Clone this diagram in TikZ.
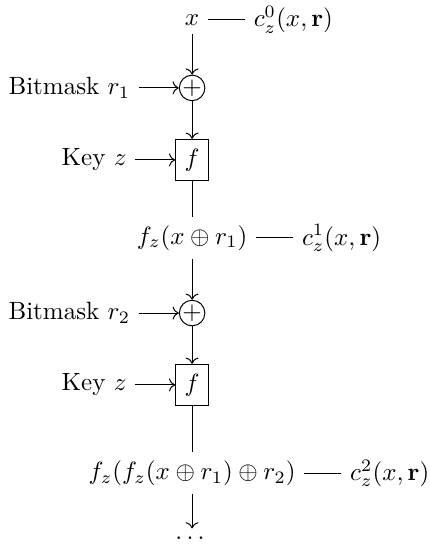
\documentclass[tikz,border=0pt]{standalone}
\usepackage{amsmath}
\usepackage{amssymb}
\usetikzlibrary{positioning, arrows.meta}

\begin{document}
\begin{tikzpicture}[
    node distance = 0.5cm,
    % Style for the XOR circles that take the bitmask
    xor/.style = {circle, draw, inner sep=0pt, minimum size=0.34cm},
    % Style for the keyed function boxes
    fbox/.style = {rectangle, draw, inner sep=0pt, minimum width=0.46cm, minimum height=0.58cm},
    % Style for the arrows along the chain
    arrow/.style = {->}
]
    \useasboundingbox (-2.70,0.28) rectangle (3.33,-7.38);

    % --- INPUT ---
    \node (X0) at (0, 0) {$x$};
    \node[right=0.52cm of X0] (C0) {$c_z^0(x,\mathbf{r})$};
    \draw (X0) -- (C0);

    % --- ROUND 1 ---
    \node[xor] (O1) at (0, -0.956) {$+$};
    \node[left=0.56cm of O1] (B1) {Bitmask $r_1$};
    \node[fbox] (F1) at (0, -1.968) {$f$};
    \node[left=0.56cm of F1] (K1) {Key $z$};
    \node (X1) at (0, -3.065) {$f_z(x \oplus r_1)$};
    \node[right=0.52cm of X1] (C1) {$c_z^1(x,\mathbf{r})$};

    \draw[arrow] (X0) -- (O1);
    \draw[arrow] (B1) -- (O1);
    \draw[arrow] (O1) -- (F1);
    \draw[arrow] (K1) -- (F1);
    \draw (F1) -- (X1);
    \draw (X1) -- (C1);

    % --- ROUND 2 ---
    \node[xor] (O2) at (0, -4.12) {$+$};
    \node[left=0.56cm of O2] (B2) {Bitmask $r_2$};
    \node[fbox] (F2) at (0, -5.13) {$f$};
    \node[left=0.56cm of F2] (K2) {Key $z$};
    \node (X2) at (0, -6.37) {$f_z(f_z(x \oplus r_1) \oplus r_2)$};
    \node[right=0.52cm of X2] (C2) {$c_z^2(x,\mathbf{r})$};

    \draw[arrow] (X1) -- (O2);
    \draw[arrow] (B2) -- (O2);
    \draw[arrow] (O2) -- (F2);
    \draw[arrow] (K2) -- (F2);
    \draw (F2) -- (X2);
    \draw (X2) -- (C2);

    % --- AND SO ON ---
    \node (D) at (0, -7.29) {$\dots$};
    \draw[arrow] (X2) -- (D);

\end{tikzpicture}
\end{document}
